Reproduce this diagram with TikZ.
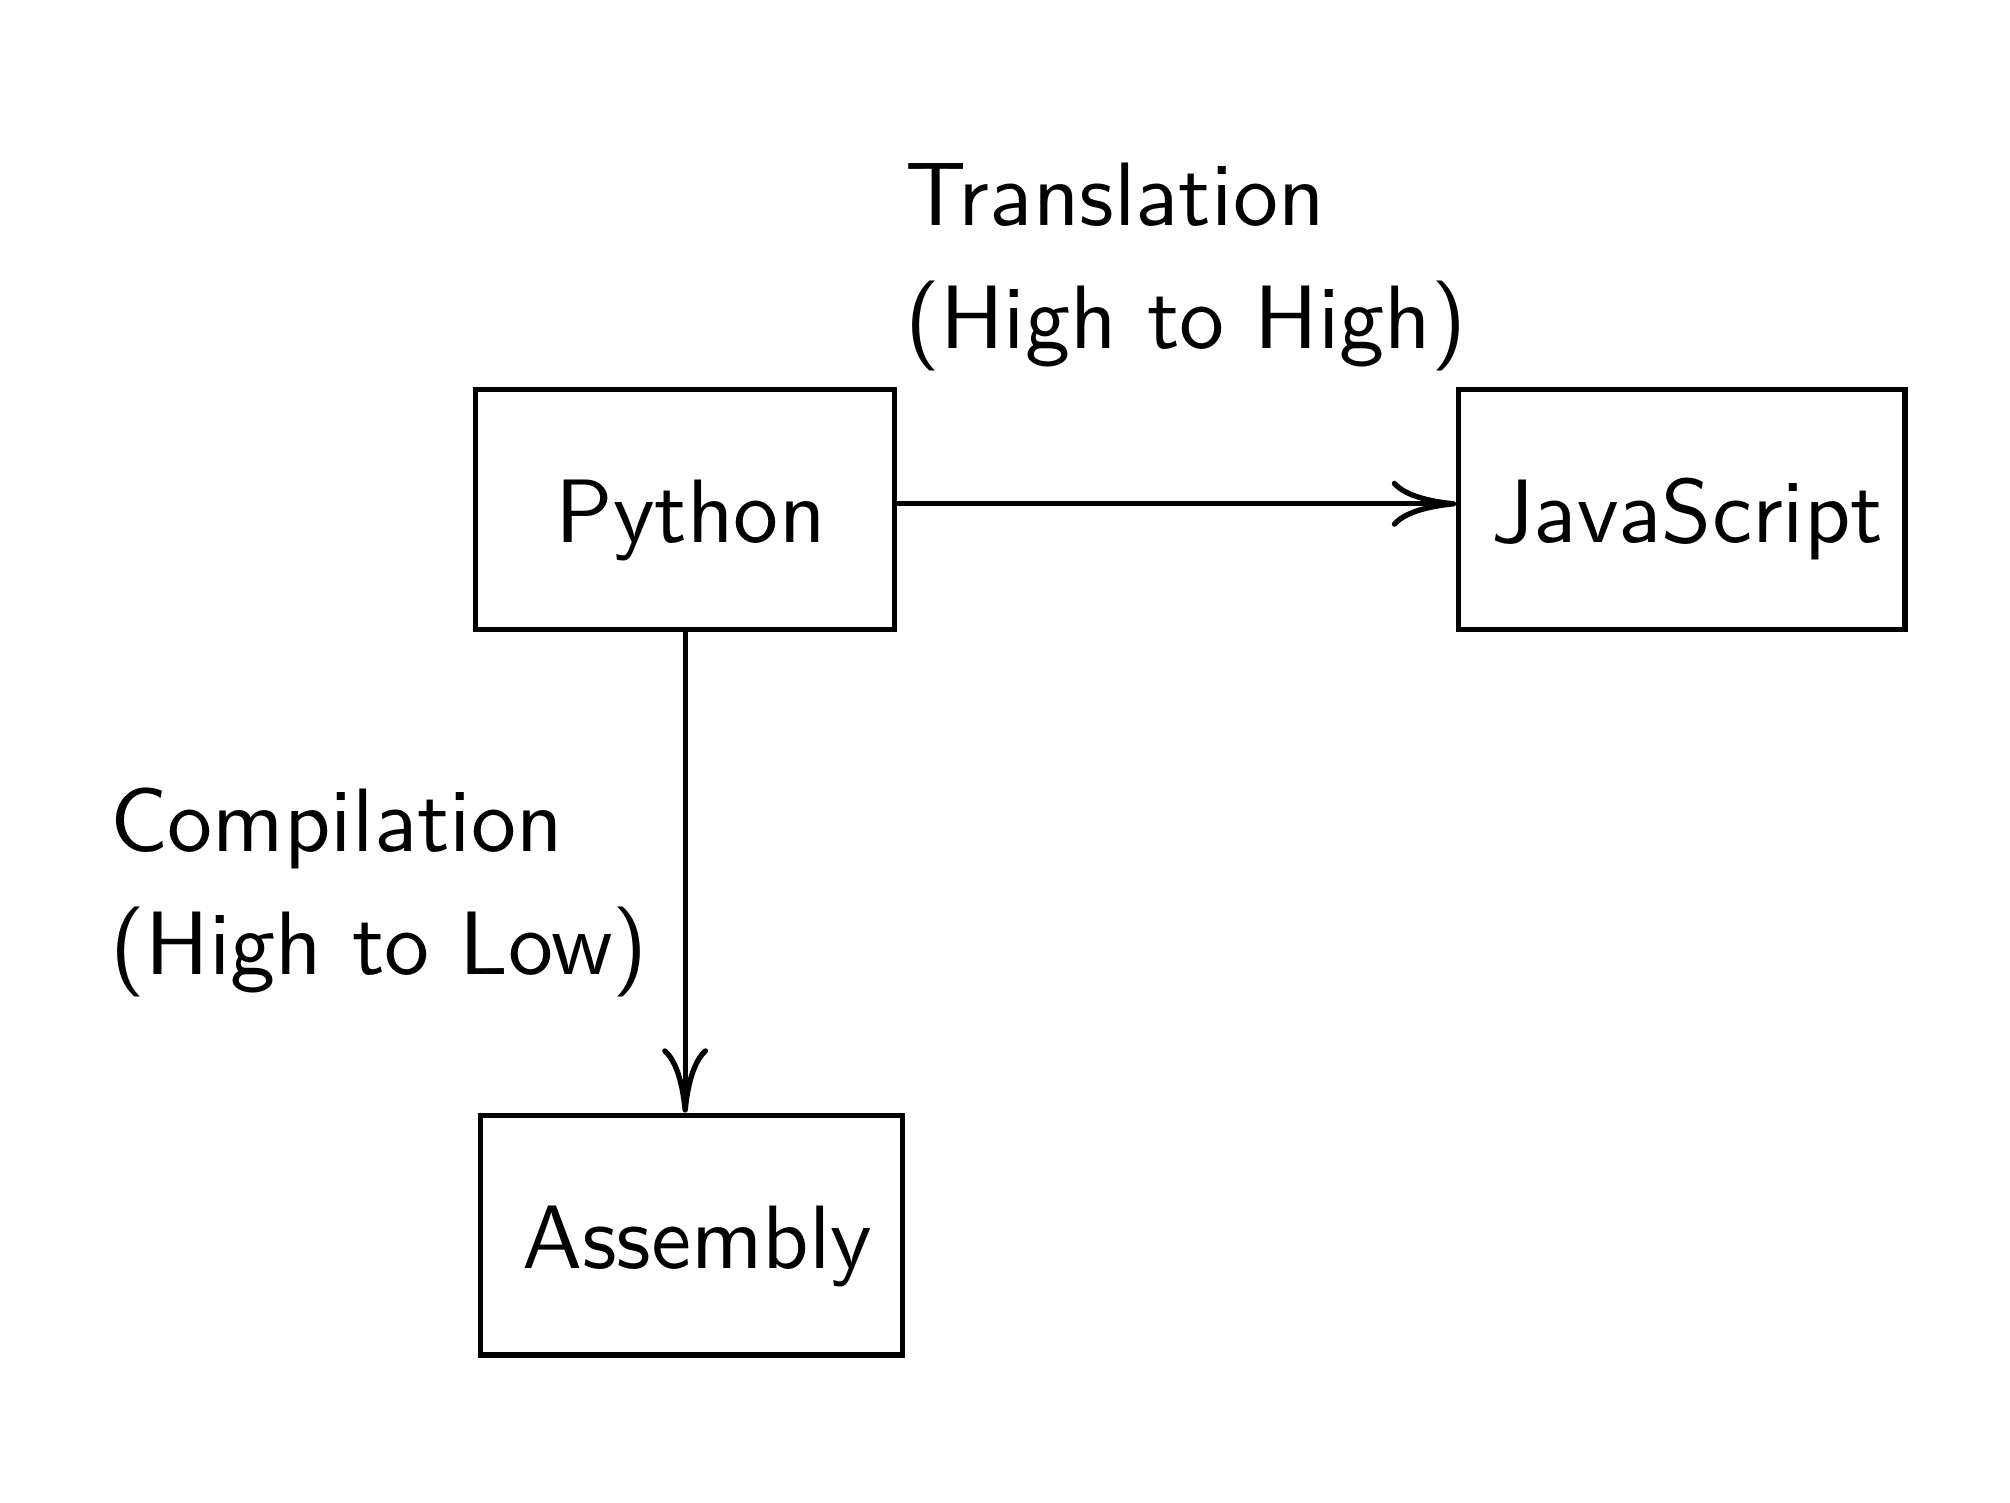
\documentclass[tikz,border=0pt]{standalone}
\usetikzlibrary{arrows.meta}
\renewcommand{\familydefault}{\sfdefault}
\begin{document}
\begin{tikzpicture}[x=0.1395pt, y=-0.1395pt, line width=0.58pt,
  box/.style={draw, rectangle, minimum height=26.09pt, inner xsep=0pt, inner ysep=0pt, text height=7.25pt, text depth=0pt, font=\sffamily\fontsize{9.8}{11.8}\selectfont, execute at begin node={\hspace*{1.2pt}}},
  lbl/.style={align=left, inner sep=0pt, anchor=base west, font=\sffamily\fontsize{9.8}{13.4}\selectfont},
  arr/.style={-{Computer Modern Rightarrow[length=7pt, width=5pt]}}]
\useasboundingbox (0,0) rectangle (1568,1171.7);
\node[box, minimum width=45.62pt] (py) at (534.5,397.5) {Python};
\node[box, minimum width=48.55pt] (js) at (1312,397.5) {JavaScript};
\node[box, minimum width=45.9pt] (asm) at (539.5,963.5) {Assembly};
\node[lbl] (tr) at (704,272) {Translation\\(High to High)};
\node[lbl] (cp) at (84,760) {Compilation\\(High to Low)};
\draw[arr] ([yshift=0.63pt]py.east) -- ([yshift=0.63pt]js.west);
\draw[arr] (py.south) -- (py.south |- asm.north);
\end{tikzpicture}
\end{document}
